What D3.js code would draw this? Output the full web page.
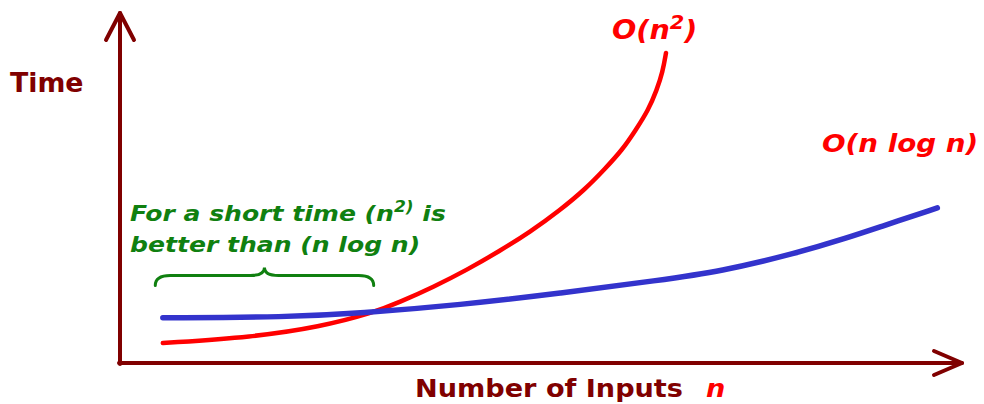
<!DOCTYPE html>
<html>
<head>
<meta charset="utf-8">
<script src="https://cdn.jsdelivr.net/npm/d3@7"></script>
<style>
  html, body { margin: 0; padding: 0; background: #fff; }
  svg text { font-family: "DejaVu Sans", Verdana, sans-serif; font-weight: bold; }
</style>
</head>
<body>
<div id="chart"></div>
<script>
// Curve values (n, time in arbitrary units 0..100)
const nlognN = [5.1, 19.9, 28.6, 40.5, 52.4, 64.3, 71.4, 80.6, 86.5, 90.5, 97.3];
const nlognT = [12.9, 13.1, 14.2, 16.6, 19.9, 23.7, 26.1, 31.4, 35.7, 38.9, 44.3];

const n2N = [5.1, 15.8, 23.8, 30.1, 33.3, 37.3, 41.3, 45.2, 48.8, 52.4, 55.4, 57.7, 59.8, 61.4, 62.9, 63.9, 64.6, 65.0];
const n2T = [5.7, 7.4, 10.3, 14.3, 17.4, 21.7, 26.6, 32.0, 37.4, 43.7, 49.7, 55.4, 60.9, 66.6, 72.3, 78.0, 83.1, 88.6];

// Brace span on the n axis, and the time level it sits at
const braceSpan = [4.2, 30.2];
const braceLevel = 25;

const width = 984, height = 404;
const axisColor = "#800000";
const green = "#108010";

const svg = d3.select("#chart").append("svg")
    .attr("width", width)
    .attr("height", height);

const x = d3.scaleLinear().domain([0, 100]).range([120, 960]);
const y = d3.scaleLinear().domain([0, 100]).range([363, 13]);

// Axes drawn as plain arrows
const axes = svg.append("g")
    .attr("fill", "none")
    .attr("stroke", axisColor)
    .attr("stroke-width", 4)
    .attr("stroke-linecap", "round")
    .attr("stroke-linejoin", "round");

const x0 = x.range()[0], y0 = y.range()[0];
const xEnd = 962, yEnd = 13;

axes.append("path").attr("d", `M${x0},${y0 + 1}V${yEnd}`);
axes.append("path").attr("d", `M${x0 - 14},${yEnd + 27}L${x0},${yEnd}L${x0 + 14},${yEnd + 27}`);
axes.append("path").attr("d", `M${x0 - 1},${y0}H${xEnd}`);
axes.append("path").attr("d", `M${xEnd - 28},${y0 - 12}L${xEnd},${y0}L${xEnd - 28},${y0 + 12}`);

// Curves (basis smooths out the small reading errors)
const line = d3.line()
    .x(d => x(d[0]))
    .y(d => y(d[1]))
    .curve(d3.curveBasis);

svg.append("path")
    .datum(n2N.map((n, i) => [n, n2T[i]]))
    .attr("d", line)
    .attr("fill", "none")
    .attr("stroke", "#ff0000")
    .attr("stroke-width", 4.5)
    .attr("stroke-linecap", "round");

svg.append("path")
    .datum(nlognN.map((n, i) => [n, nlognT[i]]))
    .attr("d", line)
    .attr("fill", "none")
    .attr("stroke", "#3333cc")
    .attr("stroke-width", 5.5)
    .attr("stroke-linecap", "round");

// Curly brace
const bx0 = x(braceSpan[0]), bx1 = x(braceSpan[1]);
const bm = (bx0 + bx1) / 2, by = y(braceLevel);
svg.append("path")
    .attr("d", `M${bx0},${by + 10} Q${bx0},${by} ${bx0 + 15},${by}` +
        ` H${bm - 14} Q${bm},${by} ${bm},${by - 8}` +
        ` Q${bm},${by} ${bm + 14},${by} H${bx1 - 15}` +
        ` Q${bx1},${by} ${bx1},${by + 10}`)
    .attr("fill", "none")
    .attr("stroke", green)
    .attr("stroke-width", 3)
    .attr("stroke-linecap", "round");

// Labels are slightly stretched sideways, like the original
function label(px, py, sx) {
    return svg.append("g")
        .attr("transform", `translate(${px},${py}) scale(${sx},1)`)
        .append("text");
}

label(10, 92, 1.03)
    .attr("fill", axisColor)
    .style("font-size", "26px")
    .text("Time");

label(415, 397, 1.085)
    .attr("fill", axisColor)
    .style("font-size", "25px")
    .text("Number of Inputs");

label(706, 397, 1.085)
    .attr("fill", "#ff0000")
    .style("font-size", "25px")
    .style("font-style", "italic")
    .text("n");

const n2Label = label(612, 39, 1.1)
    .attr("fill", "#ff0000")
    .style("font-size", "26px")
    .style("font-style", "italic");
n2Label.append("tspan").text("O(n");
n2Label.append("tspan").attr("dy", -10).style("font-size", "19px").text("2");
n2Label.append("tspan").attr("dy", 10).text(")");

label(822, 152, 1.11)
    .attr("fill", "#ff0000")
    .style("font-size", "25px")
    .style("font-style", "italic")
    .text("O(n log n)");

const note = label(130, 221, 1.14)
    .attr("fill", green)
    .style("font-size", "22px")
    .style("font-style", "italic");
const l1 = note.append("tspan").attr("x", 0).attr("y", 0);
l1.append("tspan").text("For a short time (n");
l1.append("tspan").attr("dy", -9).style("font-size", "15px").text("2)");
l1.append("tspan").attr("dy", 9).text(" is");
note.append("tspan").attr("x", 0).attr("y", 31).text("better than (n log n)");
</script>
</body>
</html>
